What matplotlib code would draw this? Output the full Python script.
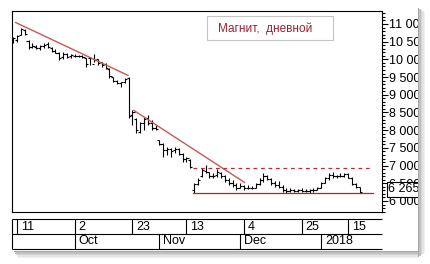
import matplotlib
matplotlib.use("Agg")
import matplotlib.pyplot as plt
import matplotlib.transforms as mtransforms
from matplotlib.patches import Rectangle
from matplotlib.ticker import MultipleLocator, FuncFormatter
import numpy as np
import pandas as pd

# ---------------- data ----------------
holidays = ["2017-11-06", "2018-01-01", "2018-01-02", "2018-01-08"]
dates = pd.bdate_range("2017-09-08", "2018-01-18")
dates = dates[~dates.isin(pd.to_datetime(holidays))]

opens = [10480, 10560, 10700, 10840, 10530, 10340, 10360, 10320, 10380, 10430,
         10330, 10240, 10180, 10060, 10140, 10090, 10110, 10100, 10090, 10040,
         10040, 9880, 10000, 9920, 9880, 9730, 9490, 9400, 9330, 9350,
         9480, 8420, 8330, 7950, 8200, 8350, 8200, 8060, 7720, 7600,
         7450, 7470, 7430, 7470, 7330, 7200, 7150, 6300, 6480, 6700,
         6850, 6820, 6700, 6730, 6800, 6700, 6580, 6500, 6450, 6360,
         6410, 6380, 6360, 6380, 6470, 6600, 6720, 6620, 6500, 6450,
         6400, 6300, 6280, 6300, 6290, 6310, 6280, 6270, 6300, 6320,
         6380, 6500, 6640, 6740, 6700, 6720, 6700, 6750, 6660, 6480,
         6400]
highs = [10640, 10680, 10880, 10870, 10560, 10450, 10420, 10400, 10460, 10480,
         10360, 10280, 10220, 10200, 10180, 10140, 10150, 10130, 10124, 10050,
         10080, 10140, 10010, 9936, 9890, 9750, 9510, 9420, 9370, 9480,
         9510, 8570, 8340, 8240, 8380, 8430, 8290, 8146, 7730, 7630,
         7530, 7490, 7535, 7490, 7350, 7250, 7200, 6520, 6640, 6920,
         7010, 6830, 6780, 6890, 6830, 6735, 6640, 6590, 6500, 6500,
         6450, 6450, 6420, 6500, 6640, 6780, 6740, 6640, 6560, 6560,
         6450, 6360, 6360, 6350, 6340, 6360, 6330, 6340, 6360, 6400,
         6546, 6690, 6780, 6830, 6740, 6780, 6780, 6780, 6690, 6500,
         6405]
lows = [10450, 10500, 10690, 10700, 10280, 10310, 10300, 10260, 10320, 10330,
        10220, 10170, 9980, 10010, 10040, 10050, 10060, 10060, 10030, 9790,
        9840, 9936, 9840, 9795, 9730, 9465, 9370, 9295, 9230, 9320,
        8335, 8150, 7910, 7910, 8000, 8150, 8000, 8000, 7580, 7250,
        7300, 7250, 7350, 7300, 7110, 7110, 6930, 6230, 6450, 6690,
        6780, 6640, 6640, 6690, 6660, 6546, 6450, 6400, 6310, 6360,
        6310, 6330, 6330, 6360, 6450, 6546, 6590, 6450, 6400, 6360,
        6260, 6240, 6260, 6250, 6260, 6260, 6250, 6240, 6260, 6310,
        6358, 6500, 6590, 6640, 6640, 6670, 6690, 6640, 6450, 6358,
        6235]
closes = [10600, 10650, 10850, 10720, 10350, 10380, 10330, 10370, 10420, 10350,
          10250, 10190, 10050, 10150, 10080, 10120, 10100, 10090, 10060, 9860,
          10040, 9980, 9900, 9830, 9770, 9520, 9400, 9330, 9350, 9460,
          8400, 8500, 8000, 8200, 8330, 8200, 8060, 8020, 7620, 7450,
          7480, 7420, 7480, 7340, 7180, 7220, 6960, 6480, 6600, 6880,
          6820, 6700, 6720, 6820, 6700, 6580, 6500, 6450, 6360, 6420,
          6380, 6360, 6380, 6470, 6600, 6720, 6620, 6500, 6450, 6400,
          6300, 6280, 6300, 6290, 6310, 6280, 6270, 6300, 6320, 6380,
          6500, 6640, 6740, 6700, 6720, 6700, 6750, 6660, 6480, 6400,
          6265]

day_ticks = ["2017-09-11", "2017-10-02", "2017-10-23", "2017-11-13",
             "2017-12-04", "2017-12-25", "2018-01-15"]
month_ticks = ["2017-10-02", "2017-11-01", "2017-12-01", "2018-01-03"]
month_labels = ["Oct", "Nov", "Dec", "2018"]

# trend lines (bar position relative to Sep 11, price)
trend1_x = [-0.5, 29.0]
trend1_y = [11050, 9540]
trend2_x = [30.2, 59.2]
trend2_y = [8570, 6517]
level_x = [45.8, 92.5]
resistance = 6925
support = 6235
last_price = 6265
title = "Магнит,  дневной"

# ---------------- figure ----------------
W, H = 431, 264
fig = plt.figure(figsize=(W / 100, H / 100), dpi=100)
fig.patch.set_facecolor("white")
FONT = "Liberation Sans"

def fx(px):
    return px / W

def fy(py):
    return 1 - py / H

pos = np.arange(len(dates)) - 1  # index relative to Sep 11
step = 3.85

# main axes
L, R, T, B = 12, 382, 11, 212
ax = fig.add_axes([fx(L), fy(B), fx(R - L), (B - T) / H])
ax.set_xlim((L - 17) / step, (R - 17) / step)
p_per_px = 1000 / 35.4
ax.set_ylim(6000 - (B - 201) * p_per_px, 11000 + (24 - T) * p_per_px)

lw = 0.8
ax.vlines(pos, lows, highs, color="black", lw=lw)
ax.hlines(opens, pos - 0.55, pos, color="black", lw=lw)
ax.hlines(closes, pos, pos + 0.55, color="black", lw=lw)

red = "#c85858"
ax.plot(trend1_x, trend1_y, color=red, lw=1.0, solid_capstyle="butt")
ax.plot(trend2_x, trend2_y, color=red, lw=1.0, solid_capstyle="butt")
ax.plot(level_x, [resistance, resistance], color="#b03030", lw=0.9,
        dashes=(3, 3))
ax.plot(level_x, [support, support], color="#b02525", lw=0.9)

for s in ax.spines.values():
    s.set_linewidth(0.8)
    s.set_color("black")
ax.set_xticks([])
ax.yaxis.tick_right()
ax.yaxis.set_major_locator(MultipleLocator(500))
ax.yaxis.set_minor_locator(MultipleLocator(100))
ax.yaxis.set_major_formatter(
    FuncFormatter(lambda v, p: f"{v:,.0f}".replace(",", " ")))
ax.tick_params(axis="y", which="major", length=4, width=0.8, pad=1,
               labelsize=9, direction="out")
ax.tick_params(axis="y", which="minor", length=2, width=0.8, direction="out")
for lab in ax.get_yticklabels():
    lab.set_fontfamily(FONT)

# last price box
blend = mtransforms.blended_transform_factory(ax.transAxes, ax.transData)
ax.text(1.017, last_price + 60, f"{last_price:,}".replace(",", " "),
        transform=blend, ha="left", va="center", fontsize=9, family=FONT,
        bbox=dict(boxstyle="square,pad=0.12", fc="white", ec="black", lw=0.8),
        clip_on=False, zorder=10)

# title box
ax.add_patch(Rectangle(((207 - L) / (R - L), (B - 40) / (B - T)),
                       126 / (R - L), 24 / (B - T), transform=ax.transAxes,
                       fc="white", ec="#c4c4c4", lw=0.8, zorder=4))
ax.text((218 - L) / (R - L), (B - 28.5) / (B - T), title,
        transform=ax.transAxes, ha="left", va="center",
        fontsize=8.5, family=FONT, color="#962430", zorder=5)

# ---------------- date panel ----------------
DT, DM, DB = 219, 234, 249
ax2 = fig.add_axes([fx(L), fy(DB), fx(R - L), (DB - DT) / H])
xl = ax.get_xlim()
ax2.set_xlim(xl)
ax2.set_ylim(0, 2)
ax2.axis("off")
line_kw = dict(color="black", lw=0.8, clip_on=False)
ax2.hlines([0, 1, 2], xl[0], xl[1], **line_kw)
ax2.vlines([xl[0]], 0, 2, **line_kw)

date_index = {d: i - 1 for i, d in enumerate(dates)}
for d in day_ticks:
    dt = pd.Timestamp(d)
    xi = date_index[dt]
    ax2.vlines([xi], 1, 2, **line_kw)
    ax2.text(xi + 1.0, 1.5, str(dt.day), ha="left", va="center",
             fontsize=9, family=FONT)
for d, lab in zip(month_ticks, month_labels):
    xi = date_index[pd.Timestamp(d)]
    ax2.vlines([xi], 0, 1, **line_kw)
    ax2.text(xi + 1.0, 0.5, lab, ha="left", va="center",
             fontsize=9, family=FONT)

# ---------------- panel edge & shadow ----------------
fig.patches.append(Rectangle((fx(418), 0), fx(W - 418), 1,
                             transform=fig.transFigure, fc="white", ec="none",
                             zorder=5))
fig.patches.append(Rectangle((0, 0), 1, (H - 251) / H,
                             transform=fig.transFigure, fc="white", ec="none",
                             zorder=5))
greys = ["#a8a8a8", "#c0c0c0", "#d4d4d4", "#e4e4e4", "#f0f0f0"]
for k, g in enumerate(greys):
    fig.patches.append(Rectangle((fx(418 + k * 1.5), fy(257 - k)),
                                 fx(1.5), (257 - k - 8 - k) / H,
                                 transform=fig.transFigure, fc=g, ec="none",
                                 zorder=6))
    fig.patches.append(Rectangle((fx(14 + k), fy(251 + (k + 1) * 1.4)),
                                 fx(404 - k), 1.4 / H,
                                 transform=fig.transFigure, fc=g, ec="none",
                                 zorder=6))

fig.savefig("out.png", dpi=100, facecolor="white")
